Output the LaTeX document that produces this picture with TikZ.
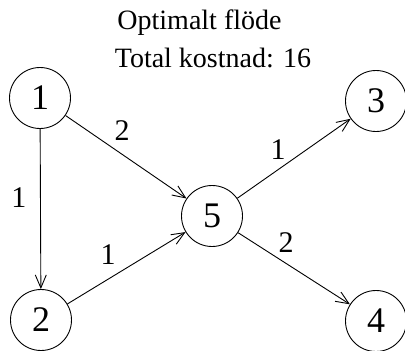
\documentclass[tikz,border=0pt]{standalone}
\usepackage{fontspec}
\setmainfont{Liberation Serif}
\usetikzlibrary{arrows.meta}
\begin{document}
\begin{tikzpicture}[x=1pt,y=-1pt,
  vert/.style={circle,draw,line width=0.9pt,minimum size=61pt,inner sep=0pt,font=\fontsize{36}{40}\selectfont},
  lbl/.style={inner sep=0pt,font=\fontsize{30}{34}\selectfont},
  ttl/.style={inner sep=0pt,anchor=base,font=\fontsize{28}{32}\selectfont},
  edge/.style={line width=0.9pt,-{Straight Barb[length=13pt,width=11pt,line width=0.9pt]}}]
\useasboundingbox (0,0) rectangle (405,351);
\node[ttl] (t1) at (199.5,29) {Optimalt flöde};
\node[ttl] (t2) at (213,67) {Total kostnad: 16};
\node[vert] (n1) at (40,98) {1};
\node[vert] (n2) at (41,320) {2};
\node[vert] (n5) at (212,216) {5};
\node[vert] (n3) at (376,101) {3};
\node[vert] (n4) at (376,321) {4};
\draw[edge] (n1) -- (n2);
\draw[edge] (n1) -- (n5);
\draw[edge] (n2) -- (n5);
\draw[edge] (n5) -- (n3);
\draw[edge] (n5) -- (n4);
\node[lbl] (l12) at (19,198) {1};
\node[lbl] (l15) at (122,131) {2};
\node[lbl] (l25) at (108,255) {1};
\node[lbl] (l53) at (278,150) {1};
\node[lbl] (l54) at (286,243) {2};
\end{tikzpicture}
\end{document}
